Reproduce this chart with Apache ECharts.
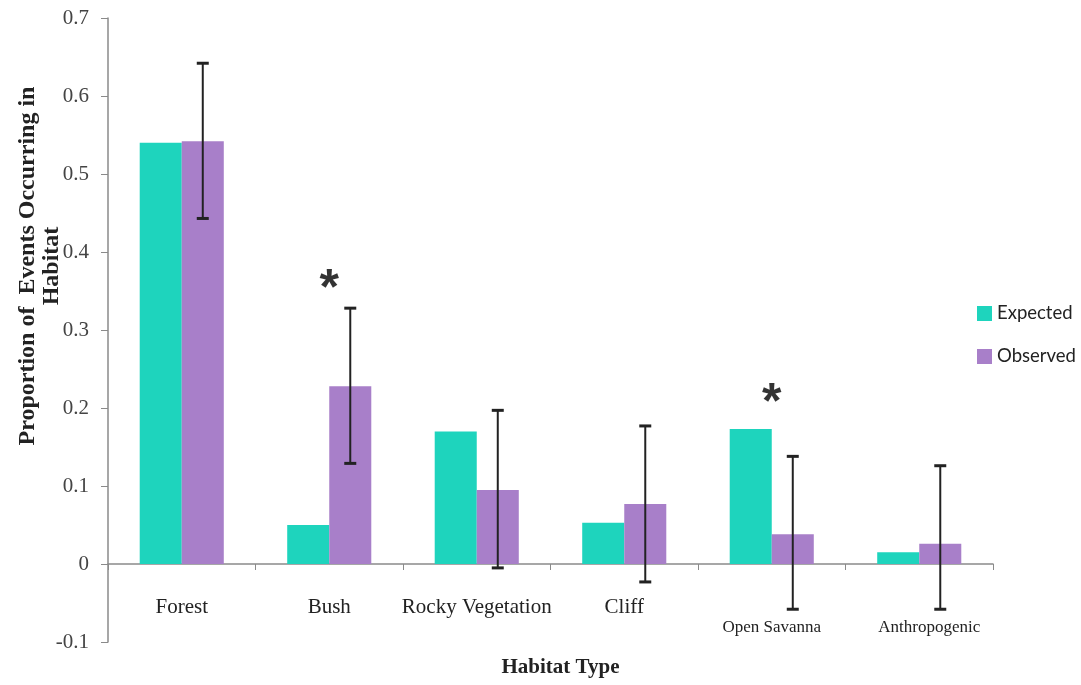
<!DOCTYPE html>
<html>
<head>
<meta charset="utf-8">
<script src="https://cdn.jsdelivr.net/npm/echarts@6/dist/echarts.min.js"></script>
<style>
  html, body { margin: 0; padding: 0; background: #fff; }
  #chart { width: 1081px; height: 685px; }
</style>
</head>
<body>
<div id="chart"></div>
<script>
// Habitat categories and proportions of events
const habitats = ['Forest', 'Bush', 'Rocky Vegetation', 'Cliff', 'Open Savanna', 'Anthropogenic'];
const expected = [0.54, 0.05, 0.17, 0.053, 0.173, 0.015];
const observed = [0.542, 0.228, 0.095, 0.077, 0.038, 0.026];
// Error bar extents for the observed values [low, high]
const observedLow = [0.443, 0.129, -0.005, -0.023, -0.058, -0.058];
const observedHigh = [0.642, 0.328, 0.197, 0.177, 0.138, 0.126];
// Significance markers: [category index, height]
const significance = [[1, 0.363], [4, 0.217]];
const yTicks = { min: -0.1, max: 0.7, step: 0.1 };

const TEAL = '#1ed4bd';
const PURPLE = '#a87fc9';
const CATEGORY_GAP = 0.43; // fraction of the band left empty

const serif = '"Liberation Serif", "DejaVu Serif", serif';

const chart = echarts.init(document.getElementById('chart'), null, { renderer: 'canvas' });

const errorData = habitats.map((h, i) => [i, observedLow[i], observedHigh[i]]);

// the last two category names sit lower and smaller than the others
const labelStyle = (v, i) => {
  if (i === 4) return '{s|' + v + '}';
  if (i === 5) return '{t|' + v + '}';
  return '{n|' + v + '}';
};

chart.setOption({
  animation: false,
  backgroundColor: '#ffffff',
  grid: { left: 108, right: 88, top: 18, bottom: 43, containLabel: false, outerBoundsMode: 'none' },
  legend: {
    orient: 'vertical',
    left: 977,
    top: 304,
    padding: 0,
    itemWidth: 15,
    itemHeight: 15,
    itemGap: 24,
    icon: 'rect',
    textStyle: { fontFamily: 'Lato, "Open Sans", sans-serif', fontSize: 18.5, color: '#222' },
    data: ['Expected', 'Observed']
  },
  graphic: [
    {
      type: 'text',
      x: 40,
      y: 266,
      rotation: Math.PI / 2,
      style: {
        text: 'Proportion of  Events Occurring in\nHabitat',
        fontFamily: serif,
        fontSize: 24,
        fontWeight: 'bold',
        fill: '#222',
        lineHeight: 24,
        align: 'center',
        verticalAlign: 'middle'
      }
    }
  ],
  xAxis: {
    type: 'category',
    data: habitats,
    name: 'Habitat Type',
    nameLocation: 'middle',
    nameGap: 15,
    nameTextStyle: { fontFamily: serif, fontSize: 21, fontWeight: 'bold', color: '#222', padding: [0, 0, 0, 20] },
    axisLine: { onZero: true, lineStyle: { color: '#8a8a8a', width: 1.5 } },
    axisTick: { show: true, length: 6, inside: false, lineStyle: { color: '#8a8a8a' } },
    axisLabel: {
      margin: -45,
      interval: 0,
      formatter: labelStyle,
      rich: {
        n: { fontFamily: serif, fontSize: 21, color: '#222' },
        s: { fontFamily: serif, fontSize: 17, color: '#222', padding: [22, 0, 0, 0] },
        t: { fontFamily: serif, fontSize: 17, color: '#222', padding: [22, 0, 0, 20] }
      }
    },
    splitLine: { show: false }
  },
  yAxis: {
    type: 'value',
    min: yTicks.min,
    max: yTicks.max,
    interval: yTicks.step,
    axisLine: { show: true, lineStyle: { color: '#8a8a8a', width: 1.5 } },
    axisTick: { show: true, length: 7, lineStyle: { color: '#8a8a8a' } },
    axisLabel: {
      fontFamily: serif, fontSize: 21, color: '#444', margin: 19,
      formatter: v => (Math.round(v * 10) / 10).toString()
    },
    splitLine: { show: false }
  },
  series: [
    {
      name: 'Expected',
      type: 'bar',
      data: expected,
      itemStyle: { color: TEAL },
      barGap: '0%',
      barCategoryGap: (CATEGORY_GAP * 100) + '%'
    },
    {
      name: 'Observed',
      type: 'bar',
      data: observed,
      itemStyle: { color: PURPLE },
      barGap: '0%',
      barCategoryGap: (CATEGORY_GAP * 100) + '%'
    },
    {
      name: 'errors',
      type: 'custom',
      data: errorData,
      z: 10,
      renderItem: (params, api) => {
        const idx = api.value(0);
        const lo = api.coord([idx, api.value(1)]);
        const hi = api.coord([idx, api.value(2)]);
        const band = api.size([1, 0])[0];
        const barW = band * (1 - CATEGORY_GAP) / 2;
        const x = lo[0] + barW / 2;
        const cap = 6;
        const style = { stroke: '#222', lineWidth: 2 };
        return {
          type: 'group',
          children: [
            { type: 'line', shape: { x1: x, y1: hi[1], x2: x, y2: lo[1] }, style },
            { type: 'line', shape: { x1: x - cap, y1: hi[1], x2: x + cap, y2: hi[1] }, style: { stroke: '#222', lineWidth: 3 } },
            { type: 'line', shape: { x1: x - cap, y1: lo[1], x2: x + cap, y2: lo[1] }, style: { stroke: '#222', lineWidth: 3 } }
          ]
        };
      }
    },
    {
      name: 'significance',
      type: 'scatter',
      data: significance,
      symbolSize: 1,
      itemStyle: { color: 'rgba(0,0,0,0)' },
      label: {
        show: true,
        position: 'inside',
        offset: [0, 9],
        formatter: '*',
        fontFamily: '"Liberation Sans", Arial, sans-serif',
        fontSize: 50,
        fontWeight: 'bold',
        color: '#000'
      },
      z: 11
    }
  ]
});
</script>
</body>
</html>
